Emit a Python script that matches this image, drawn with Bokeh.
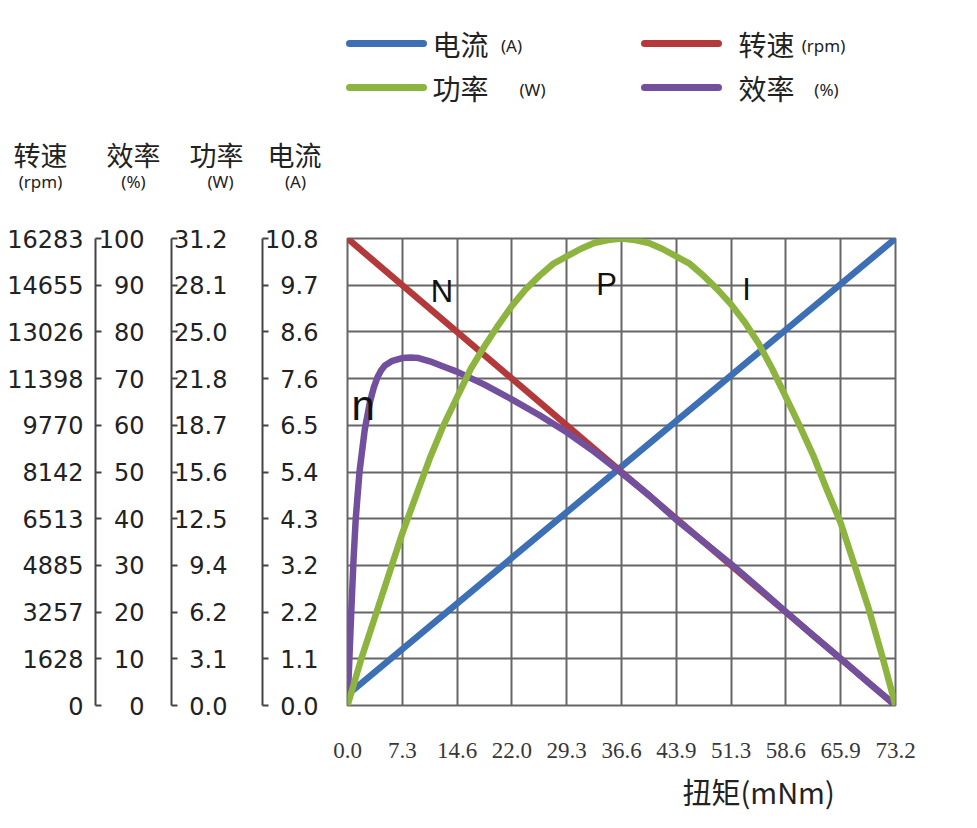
from bokeh.plotting import figure
from bokeh.layouts import column
from bokeh.models import (Range1d, LinearAxis, FixedTicker, CustomJSTickFormatter, Title)
from bokeh.core.properties import value
from bokeh.embed import file_html
from bokeh.resources import INLINE

# ---------------- data ----------------
torque_labels = ["0.0", "7.3", "14.6", "22.0", "29.3", "36.6", "43.9", "51.3", "58.6", "65.9", "73.2"]
speed_labels = ["0", "1628", "3257", "4885", "6513", "8142", "9770", "11398", "13026", "14655", "16283"]
eff_labels = ["0", "10", "20", "30", "40", "50", "60", "70", "80", "90", "100"]
power_labels = ["0.0", "3.1", "6.2", "9.4", "12.5", "15.6", "18.7", "21.8", "25.0", "28.1", "31.2"]
current_labels = ["0.0", "1.1", "2.2", "3.2", "4.3", "5.4", "6.5", "7.6", "8.6", "9.7", "10.8"]

torque_max = 73.2
speed_max = 16283
eff_max = 100
power_max = 31.2
current_max = 10.8

current_torque = [0.0, 73.2]
current_amp = [0.25, 10.8]

speed_torque = [0.0, 73.2]
speed_rpm = [16283, 0]

power_torque = [0.0, 1.83, 3.66, 5.49, 7.32, 9.15, 10.98, 12.81, 14.64, 16.47, 18.3, 20.13,
                21.96, 23.79, 25.62, 27.45, 29.28, 31.11, 32.94, 34.77, 36.6, 38.43, 40.26,
                42.09, 43.92, 45.75, 47.58, 49.41, 51.24, 53.07, 54.9, 56.73, 58.56, 60.39,
                62.22, 64.05, 65.88, 67.71, 69.54, 71.37, 73.2]
power_w = [0.0, 3.1, 5.9, 8.7, 11.5, 14.0, 16.5, 18.7, 20.6, 22.5, 24.0, 25.4,
           26.7, 27.8, 28.7, 29.5, 30.0, 30.5, 30.9, 31.1, 31.2, 31.1, 30.9,
           30.5, 30.0, 29.5, 28.7, 27.8, 26.8, 25.6, 24.2, 22.5, 20.6, 18.7,
           16.7, 14.4, 12.2, 9.4, 6.6, 3.4, 0.0]

eff_torque = [0.0, 0.25, 0.5, 0.8, 1.1, 1.6, 2.3, 3.0, 3.5, 4.0, 4.5, 5.0, 6.0, 7.3, 8.4,
              9.5, 11.0, 12.8, 14.6, 18.3, 22.0, 25.6, 29.3, 33.0, 36.6, 40.3, 43.9,
              47.6, 51.3, 54.9, 58.6, 62.2, 65.9, 69.5, 73.2]
eff_pct = [0, 10, 20, 31, 40, 50, 59, 65, 68, 70.3, 71.8, 72.8, 73.8, 74.4, 74.5,
           74.4, 73.7, 72.6, 71.5, 68.7, 65.5, 62.2, 58.5, 54.3, 49.8, 45.0, 39.8,
           35.0, 30.2, 25.2, 20.0, 15.0, 10.0, 5.0, 0]

series_names = ["电流", "转速", "功率", "效率"]
series_units = ["(A)", "(rpm)", "(W)", "(%)"]
curve_letters = ["N", "P", "I"]
eff_letter = "n"

# ---------------- style ----------------
BLUE = "#3D6FB4"
RED = "#B3393A"
GREEN = "#8CB43E"
PURPLE = "#72509E"
GRID = "#666666"
TXT = "#222222"
AX = "#444444"

W, H = 977, 828
TOP_H = 215
FL, FT, FW, FH = 347, 238, 548, 467

# ---------------- header figure (legend + axis titles) ----------------
top = figure(width=W, height=TOP_H, x_range=Range1d(0, W), y_range=Range1d(TOP_H, 0),
             x_axis_type=None, y_axis_type=None, min_border=0,
             output_backend="svg", toolbar_location=None,
             background_fill_color="white", border_fill_color="white")
top.frame_align = False
top.outline_line_color = None
top.xgrid.visible = False
top.ygrid.visible = False

# legend swatches
sw_x0 = [349, 644, 349, 644]
sw_y = [43, 43, 87, 87]
sw_col = [BLUE, RED, GREEN, PURPLE]
for x0, y0, c in zip(sw_x0, sw_y, sw_col):
    top.line([x0, x0 + 74], [y0, y0], line_color=c, line_width=7, line_cap="round")

top.text(x=[460, 766, 460, 766], y=sw_y, text=series_names,
         text_font=value("Noto Sans CJK SC"), text_font_size=value("28px"),
         text_align="center", text_baseline="middle", text_color=TXT)
top.text(x=[511, 823, 532, 826], y=[y + 2 for y in sw_y], text=series_units,
         text_font=value("Noto Sans"), text_font_size=value("17px"),
         text_align="center", text_baseline="middle", text_color=TXT)

# axis titles (speed, efficiency, power, current)
title_names = [series_names[1], series_names[3], series_names[2], series_names[0]]
title_units = [series_units[1], series_units[3], series_units[2], series_units[0]]
top.text(x=[40, 133, 216, 294], y=[154] * 4, text=title_names,
         text_font=value("Noto Sans CJK SC"), text_font_size=value("27px"),
         text_align="center", text_baseline="middle", text_color=TXT)
top.text(x=[40, 133, 220, 295], y=[181] * 4, text=title_units,
         text_font=value("Noto Sans"), text_font_size=value("17px"),
         text_align="center", text_baseline="middle", text_color=TXT)

# ---------------- main figure ----------------
p = figure(frame_width=FW, frame_height=FH,
           min_border_left=FL, min_border_right=W - FL - FW,
           min_border_top=FT - TOP_H, min_border_bottom=H - FT - FH,
           x_range=Range1d(0, torque_max), y_range=Range1d(0, current_max),
           output_backend="svg", toolbar_location=None,
           background_fill_color="white", border_fill_color="white")
p.frame_align = False
p.extra_y_ranges = {
    "speed": Range1d(0, speed_max),
    "eff": Range1d(0, eff_max),
    "power": Range1d(0, power_max),
}


def ticks_for(mx, n):
    return [mx * i / (n - 1) for i in range(n)]


def fmt(labels):
    return CustomJSTickFormatter(args=dict(labels=labels), code="return labels[index];")


# x axis
xt = FixedTicker(ticks=ticks_for(torque_max, len(torque_labels)))
p.xaxis.ticker = xt
p.xaxis.formatter = fmt(torque_labels)
p.xaxis.axis_line_color = None
p.xaxis.major_tick_line_color = None
p.xaxis.minor_tick_line_color = None
p.xaxis.major_label_standoff = 31
p.xaxis.major_label_text_font = "Liberation Serif"
p.xaxis.major_label_text_font_size = "23px"
p.xaxis.major_label_text_color = "#383838"

# current axis (innermost)
ct = FixedTicker(ticks=ticks_for(current_max, len(current_labels)))
cax = p.yaxis[0]
cax.ticker = ct
cax.formatter = fmt(current_labels)
cax.axis_line_color = None
cax.major_tick_in = 0
cax.major_tick_out = 0
cax.minor_tick_line_color = None
cax.major_label_standoff = 29


def style_axis(ax, standoff):
    ax.axis_line_color = AX
    ax.axis_line_width = 2
    ax.major_tick_line_color = AX
    ax.major_tick_line_width = 2
    ax.major_tick_in = 6
    ax.major_tick_out = 0
    ax.minor_tick_line_color = None
    ax.major_label_standoff = standoff


pax = LinearAxis(y_range_name="power",
                 ticker=FixedTicker(ticks=ticks_for(power_max, len(power_labels))),
                 formatter=fmt(power_labels))
style_axis(pax, 35)
eax = LinearAxis(y_range_name="eff",
                 ticker=FixedTicker(ticks=ticks_for(eff_max, len(eff_labels))),
                 formatter=fmt(eff_labels))
style_axis(eax, 27)
sax = LinearAxis(y_range_name="speed",
                 ticker=FixedTicker(ticks=ticks_for(speed_max, len(speed_labels))),
                 formatter=fmt(speed_labels))
style_axis(sax, 12)
for ax in [cax, pax, eax, sax]:
    ax.major_label_text_font = "DejaVu Sans"
    ax.major_label_text_font_size = "24px"
    ax.major_label_text_color = TXT
for ax in [pax, eax, sax]:
    p.add_layout(ax, "left")

# x-axis title
p.add_layout(Title(text="扭矩(mNm)", align="left", offset=335, standoff=14,
                   text_font="Noto Sans CJK SC", text_font_size="29px",
                   text_font_style="normal", text_color=TXT), "below")

# grid
p.xgrid.ticker = xt
p.ygrid.ticker = ct
for g in (p.xgrid, p.ygrid):
    g.grid_line_color = GRID
    g.grid_line_width = 2
p.outline_line_color = GRID
p.outline_line_width = 2

# curves
LW = 6.5
p.line(current_torque, current_amp, line_color=BLUE, line_width=LW, line_cap="round")
p.line(speed_torque, speed_rpm, y_range_name="speed", line_color=RED, line_width=LW,
       line_cap="round")
p.line(eff_torque, eff_pct, y_range_name="eff", line_color=PURPLE, line_width=LW,
       line_cap="round", line_join="round")
p.line(power_torque, power_w, y_range_name="power", line_color=GREEN, line_width=LW,
       line_cap="round", line_join="round")

# curve letters (placed at data positions near each curve, current-axis units)
p.text(x=[12.6, 34.6, 53.3], y=[9.57, 9.74, 9.62], text=curve_letters,
       text_font=value("Liberation Sans"), text_font_size=value("31px"),
       text_align="center", text_baseline="middle", text_color="#111111")
p.text(x=[2.1], y=[6.93], text=[eff_letter],
       text_font=value("Liberation Sans"), text_font_size=value("42px"),
       text_align="center", text_baseline="middle", text_color="#111111")

layout = column(top, p)
open("out.html", "w").write(file_html(layout, INLINE))
